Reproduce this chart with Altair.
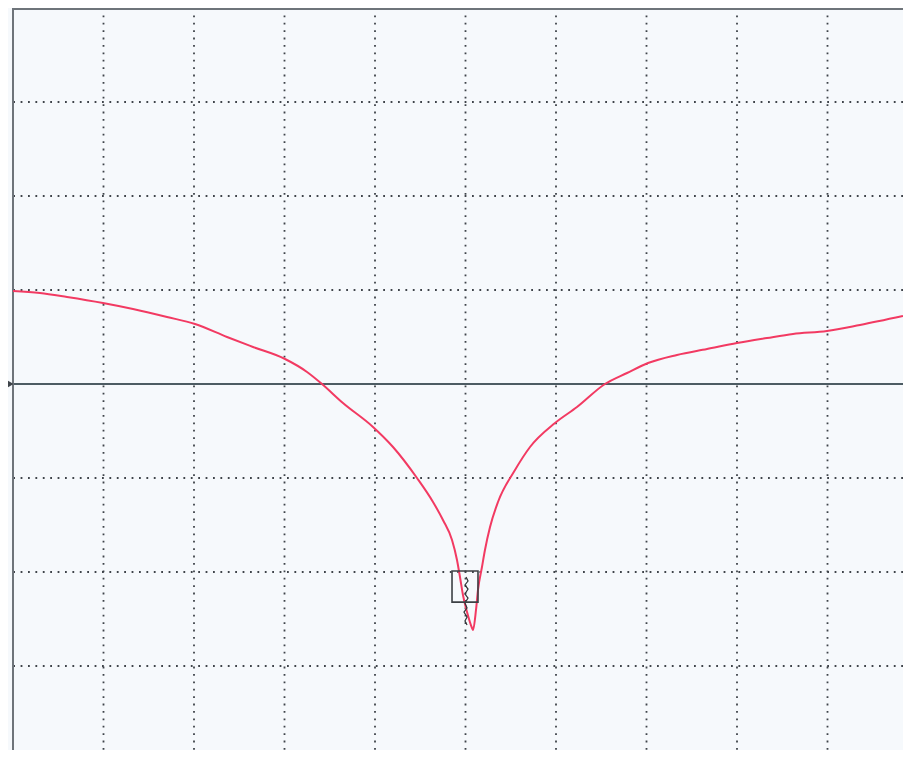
import altair as alt
import pandas as pd

# Trace (screen divisions: x 0..10 across, y relative to reference line, + is up)
trace_x = [0.000, 0.298, 0.597, 0.994, 1.326, 1.702, 2.011, 2.365, 2.652, 3.006,
           3.249, 3.414, 3.646, 3.978, 4.199, 4.464, 4.641, 4.751, 4.851, 4.906,
           4.939, 4.972, 5.017, 5.072, 5.083, 5.116, 5.138, 5.182, 5.215, 5.271,
           5.359, 5.547, 5.713, 5.989, 6.232, 6.541, 6.785, 7.017, 7.337, 7.669,
           8.000, 8.331, 8.619, 8.994, 9.359, 9.834]
trace_y = [0.989, 0.968, 0.926, 0.862, 0.798, 0.713, 0.638, 0.500, 0.394, 0.266,
           0.128, 0.000, -0.202, -0.457, -0.670, -1.000, -1.255, -1.447, -1.660, -1.872,
           -2.053, -2.245, -2.426, -2.596, -2.617, -2.404, -2.191, -1.947, -1.766, -1.521,
           -1.255, -0.915, -0.670, -0.415, -0.245, 0.000, 0.117, 0.223, 0.309, 0.372,
           0.436, 0.489, 0.532, 0.564, 0.628, 0.723]

# Noisy marker trace inside the box
noise_x = [5.006, 5.028, 4.994, 5.028, 4.994, 5.028, 4.994, 5.017, 4.983, 5.017, 4.994, 5.017]
noise_y = [-2.053, -2.096, -2.138, -2.181, -2.234, -2.277, -2.330, -2.383, -2.426, -2.479, -2.521, -2.564]

# Marker box
box_x = [4.851, 5.138]
box_y = [-1.99, -2.32]

# Grid
grid_x = [1, 2, 3, 4, 5, 6, 7, 8, 9]
grid_y = [3, 2, 1, -1, -2, -3]
ref_level = 0

W = 890
H = 742
DIV_PX_X = 90.5
DIV_PX_Y = 94.0
X_MAX = W / DIV_PX_X
Y_TOP = 4.0
Y_BOT = Y_TOP - H / DIV_PX_Y

xs = alt.Scale(domain=[0, X_MAX], nice=False, zero=False)
ys = alt.Scale(domain=[Y_BOT, Y_TOP], nice=False, zero=False)

trace_df = pd.DataFrame({"x": trace_x, "y": trace_y, "i": range(len(trace_x))})
noise_df = pd.DataFrame({"x": noise_x, "y": noise_y, "i": range(len(noise_x))})
box_df = pd.DataFrame({"x": [box_x[0]], "x2": [box_x[1]], "y": [box_y[0]], "y2": [box_y[1]]})
gx_df = pd.DataFrame({"x": grid_x})
gy_df = pd.DataFrame({"y": grid_y})
ref_df = pd.DataFrame({"y": [ref_level]})

grid_color = "#3f444a"

vgrid = alt.Chart(gx_df).mark_rule(color=grid_color, strokeWidth=1.8, strokeDash=[1.8, 5.6]).encode(
    x=alt.X("x:Q", scale=xs, axis=None)
)
hgrid = alt.Chart(gy_df).mark_rule(color=grid_color, strokeWidth=1.8, strokeDash=[1.8, 5.6]).encode(
    y=alt.Y("y:Q", scale=ys, axis=None)
)
ref = alt.Chart(ref_df).mark_rule(color="#4d5c63", strokeWidth=2).encode(
    y=alt.Y("y:Q", scale=ys, axis=None)
)
ref_arrow = alt.Chart(ref_df).mark_point(shape="triangle-right", filled=True, color="#3f444a",
                                         size=70, opacity=1, clip=False).encode(
    y=alt.Y("y:Q", scale=ys, axis=None), x=alt.value(-3)
)
left_border = alt.Chart(ref_df).mark_rule(color="#6e747a", strokeWidth=2).encode(
    x=alt.value(0), y=alt.value(0), y2=alt.value(H)
)
top_border = alt.Chart(ref_df).mark_rule(color="#6e747a", strokeWidth=2).encode(
    y=alt.value(1), x=alt.value(0), x2=alt.value(W)
)
curve = alt.Chart(trace_df).mark_line(color="#f23a62", strokeWidth=2, interpolate="monotone").encode(
    x=alt.X("x:Q", scale=xs, axis=None),
    y=alt.Y("y:Q", scale=ys, axis=None),
    order="i:Q",
)
noise = alt.Chart(noise_df).mark_line(color="#2f3336", strokeWidth=1.2).encode(
    x=alt.X("x:Q", scale=xs, axis=None),
    y=alt.Y("y:Q", scale=ys, axis=None),
    order="i:Q",
)
box = alt.Chart(box_df).mark_rect(fillOpacity=0, stroke="#3c4044", strokeWidth=1.6).encode(
    x=alt.X("x:Q", scale=xs, axis=None), x2="x2:Q",
    y=alt.Y("y:Q", scale=ys, axis=None), y2="y2:Q",
)

chart = alt.layer(vgrid, hgrid, ref, left_border, top_border, curve, noise, box, ref_arrow).properties(
    width=W, height=H,
    padding={"left": 5, "top": 0, "right": 0, "bottom": 0},
    autosize=alt.AutoSizeParams(type="none"),
    background="#f6f9fc",
).configure_view(stroke=None)

chart.save("out.html", embed_options={"renderer": "svg", "actions": False})
